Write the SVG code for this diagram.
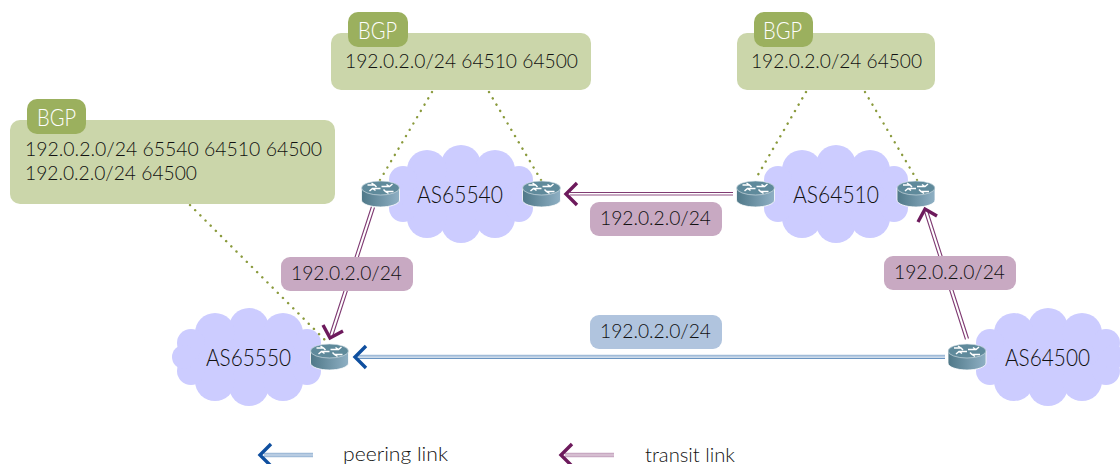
<svg xmlns="http://www.w3.org/2000/svg" xmlns:xlink="http://www.w3.org/1999/xlink" width="1120" height="464" viewBox="0 0 1120 464">
<style>
text{font-family:"Lato","Liberation Sans",sans-serif;font-size:20px;fill:#111;font-weight:300}
.as{font-size:23px}
.tab{fill:#9bb05e}
.box{fill:#cbd6aa}
.tabt{fill:#fff;font-size:23px}
.tl{fill:#c8a9c2}
.pl{fill:#b0c4de}
.dot{fill:none;stroke:#8a9a3c;stroke-width:2.4;stroke-linecap:round;stroke-dasharray:0.1 7.2}
.d1{fill:none;stroke:#7f3a72;stroke-width:1.1}
.d2{fill:none;stroke:#c8a9c2;stroke-width:2}
.b1{fill:none;stroke:#3a72ad;stroke-width:1.1}
.b2{fill:none;stroke:#a0bbd8;stroke-width:2}
.ah{fill:none;stroke-width:3.4}
.atr{stroke:#6d1a5c}
.ape{stroke:#0f4f9f}
</style>
<defs>
<linearGradient id="rg" x1="0" x2="1" y1="0" y2="0"><stop offset="0" stop-color="#4f7888"/><stop offset="1" stop-color="#8fb0c4"/></linearGradient>
<symbol id="cloud" overflow="visible">
<g fill="#ccccff">
<rect x="-58" y="-20" width="116" height="40"/>
<rect x="-38" y="-32" width="76" height="64"/>
<circle cx="0" cy="-29" r="20"/><circle cx="0" cy="29" r="20"/>
<circle cx="-34" cy="-24" r="20"/><circle cx="34" cy="-24" r="20"/>
<circle cx="-34" cy="24" r="20"/><circle cx="34" cy="24" r="20"/>
<circle cx="-58" cy="-14" r="14"/><circle cx="58" cy="-14" r="14"/>
<circle cx="-58" cy="14" r="14"/><circle cx="58" cy="14" r="14"/>
<circle cx="-65" cy="0" r="12"/><circle cx="65" cy="0" r="12"/>
</g>
</symbol>
<symbol id="router" overflow="visible">
<path d="M-19-6V6C-19 10-10 13 0 13S19 10 19 6V-6Z" fill="url(#rg)" stroke="#fff" stroke-width="0.8"/>
<ellipse cx="0" cy="-6" rx="19" ry="7" fill="#5f8a9b" stroke="#dfe8ec" stroke-width="0.6"/>
<path d="M-13-9H-6L-4-7M-6-9L-9-11M0-5.5H-8L-11-3M-8-5.5L-5-3.5M13-2.5H5L3-4.500M5-2.500L8-0.500M1-7.500H9L12-10M9-7.500L6-9.500" fill="none" stroke="#fff" stroke-width="1.5"/>
</symbol>
</defs>

<g id="clouds">
<use id="cloud-as65540" xlink:href="#cloud" x="461" y="194"/>
<use id="cloud-as64510" xlink:href="#cloud" x="836" y="194"/>
<use id="cloud-as65550" xlink:href="#cloud" x="249" y="357"/>
<use id="cloud-as64500" xlink:href="#cloud" x="1048" y="357"/>
</g>

<g id="connectors">
<path class="dot" d="M432 92L380 180"/>
<path class="dot" d="M489 92L541 180"/>
<path class="dot" d="M806 92L755 180"/>
<path class="dot" d="M865 92L917 180"/>
<path class="dot" d="M190 205L325 340"/>

<path class="d1" d="M733 192.500H570"/><path class="d2" d="M733 195H570"/>
<path class="ah atr" d="M577 183L566 194L577 205"/>
<path class="d1" d="M371.500 206.500L329.500 335.500M374.500 207.500L332.500 336.500"/>
<path class="ah atr" d="M323 325L330 338L343 331"/>
<path class="d1" d="M968.500 338.500L927.500 210.500M965.500 339.500L924.500 211.500"/>
<path class="ah atr" d="M918 222L925 209L937 216"/>
<path class="b2" d="M945 355.800H358"/><path class="b1" d="M945 358.300H358"/>
<path class="ah ape" d="M366 346L355 357L366 368"/>
<path class="b2" d="M313 453.800H264"/><path class="b2" d="M313 456.200H264"/>
<path class="ah ape" d="M271 444L260 455L271 466"/>
<path class="d2" d="M614 453.800H565"/><path class="d2" d="M614 456.200H565"/>
<path class="ah atr" d="M572 444L561 455L572 466"/>
</g>

<g id="r1"><use xlink:href="#router" x="380.5" y="194"/></g>
<g id="r2"><use xlink:href="#router" x="541.5" y="194"/></g>
<g id="r3"><use xlink:href="#router" x="755.5" y="194"/></g>
<g id="r4"><use xlink:href="#router" x="916" y="194"/></g>
<g id="r5"><use xlink:href="#router" x="329.5" y="357"/></g>
<g id="r6"><use xlink:href="#router" x="967" y="357"/></g>

<g id="as65540-label"><text class="as" x="417" y="203" textLength="86" lengthAdjust="spacingAndGlyphs">AS65540</text></g>
<g id="as64510-label"><text class="as" x="793" y="203" textLength="86" lengthAdjust="spacingAndGlyphs">AS64510</text></g>
<g id="as65550-label"><text class="as" x="206" y="366" textLength="85" lengthAdjust="spacingAndGlyphs">AS65550</text></g>
<g id="as64500-label"><text class="as" x="1005" y="366" textLength="85" lengthAdjust="spacingAndGlyphs">AS64500</text></g>

<g id="bgp-as65540">
<rect class="box" x="331" y="33" width="260" height="57" rx="10"/>
<rect class="tab" x="348" y="12" width="60" height="35" rx="10"/>
<text class="tabt" x="358" y="39" textLength="39" lengthAdjust="spacingAndGlyphs">BGP</text>
<text x="345" y="68" textLength="233" lengthAdjust="spacingAndGlyphs">192.0.2.0/24 64510 64500</text>
</g>
<g id="bgp-as64510">
<rect class="box" x="737" y="33" width="198" height="57" rx="10"/>
<rect class="tab" x="754" y="12" width="59" height="35" rx="10"/>
<text class="tabt" x="763" y="39" textLength="39" lengthAdjust="spacingAndGlyphs">BGP</text>
<text x="751" y="68" textLength="171" lengthAdjust="spacingAndGlyphs">192.0.2.0/24 64500</text>
</g>
<g id="bgp-as65550">
<rect class="box" x="10" y="120" width="325" height="84" rx="10"/>
<rect class="tab" x="27" y="99" width="59" height="35" rx="10"/>
<text class="tabt" x="37" y="126" textLength="39" lengthAdjust="spacingAndGlyphs">BGP</text>
<text x="25" y="156" textLength="297" lengthAdjust="spacingAndGlyphs">192.0.2.0/24 65540 64510 64500</text>
<text x="25" y="180" textLength="172" lengthAdjust="spacingAndGlyphs">192.0.2.0/24 64500</text>
</g>

<g id="label-left"><rect class="tl" x="281" y="257" width="132" height="34" rx="9"/><text x="291" y="280" textLength="111" lengthAdjust="spacingAndGlyphs">192.0.2.0/24</text></g>
<g id="label-top"><rect class="tl" x="590" y="202" width="132" height="34" rx="9"/><text x="600" y="225" textLength="111" lengthAdjust="spacingAndGlyphs">192.0.2.0/24</text></g>
<g id="label-right"><rect class="tl" x="884" y="256" width="132" height="34" rx="9"/><text x="894" y="279" textLength="111" lengthAdjust="spacingAndGlyphs">192.0.2.0/24</text></g>
<g id="label-peer"><rect class="pl" x="590" y="315" width="132" height="34" rx="9"/><text x="600" y="338" textLength="111" lengthAdjust="spacingAndGlyphs">192.0.2.0/24</text></g>

<g id="legend">
<text x="343" y="461" textLength="105" lengthAdjust="spacingAndGlyphs">peering link</text>
<text x="645" y="462" textLength="90" lengthAdjust="spacingAndGlyphs">transit link</text>
</g>
</svg>
